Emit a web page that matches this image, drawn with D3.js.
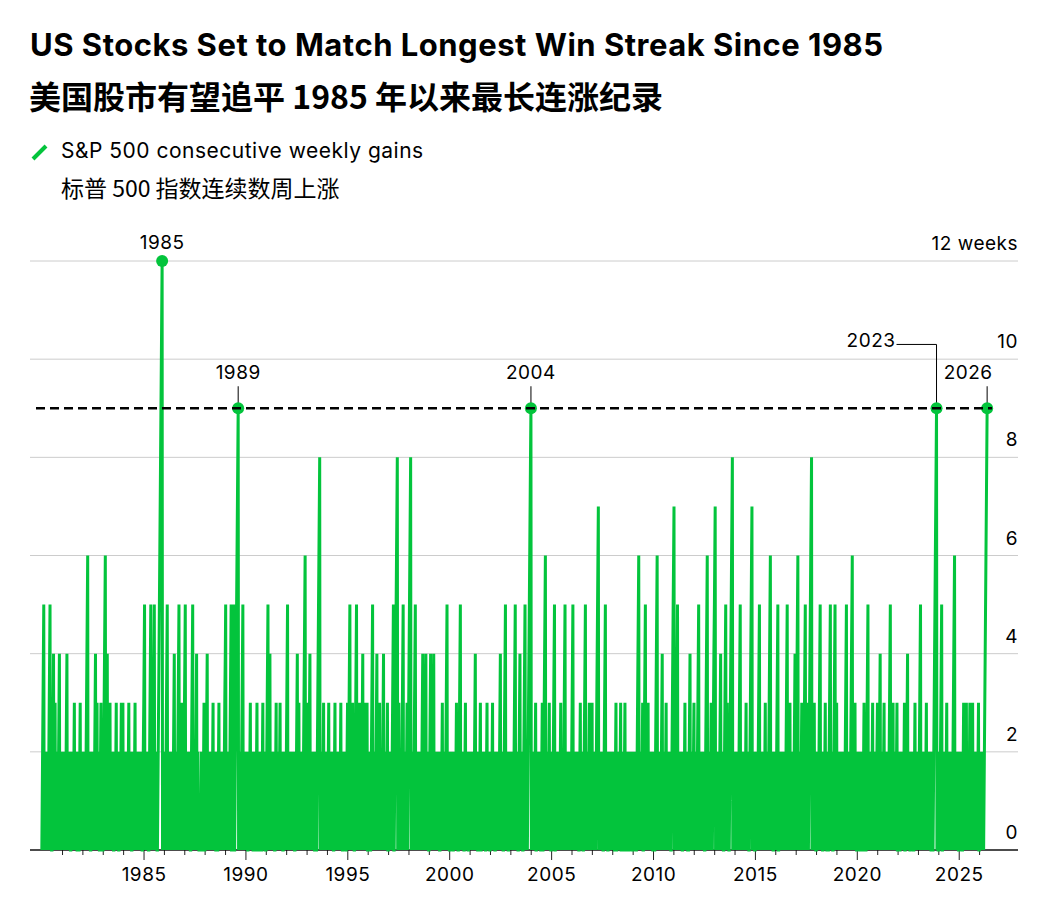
<!DOCTYPE html>
<meta charset="utf-8" />
<title>US Stocks Set to Match Longest Win Streak Since 1985</title>
<style>
  body { margin: 0; background: #fff; }
  svg { display: block; }
  text { font-family: Inter, "Liberation Sans", Arial, sans-serif; fill: #000; }
  .cjk { font-family: "Noto Sans CJK SC", Inter, sans-serif; }
  .lbl { font-size: 19px; letter-spacing: 0.5px; }
  .grid line { stroke: #cccccc; stroke-width: 1px; }
  .axis text { font-family: Inter, "Liberation Sans", Arial, sans-serif; font-size: 19px; letter-spacing: 0.5px; fill: #000; }
  .axis line { stroke: #222; }
  .axis path { display: none; }
</style>

<body>
  <svg width="1054" height="914"></svg>

  <script src="https://d3js.org/d3.v7.min.js"></script>
  <script>
    const width = 1054, height = 914;
    const green = "#03c43c";

    // weekly value of the S&P 500 winning streak, one string per year (52 weeks),
    // digits, a/b/c = 10/11/12, spaces only for readability
    const firstYear = 1980;
    const weeklyStreak = [
      "0123450 1012012010 123450 1200 12340 1230120120 12340 12012",              // 1980
      "012012010 12340 120101200120120 1230 12012001200 1230 1201",                // 1981
      "20120120 1234560 120120010120120 12340 1230 1012001230120",                 // 1982
      "01234560 12340 120 1230 10 120 120 0 120 1230 10 120 0 120 1230 123",       // 1983
      "012010120120 1230 120120012010 1230 120 120 10 120 120 120 0 12",           // 1984
      "3450 1201201200 123450 120 123450 1201200 123456789abc0 101",               // 1985
      "0120123450 1201012012010 12340 120120 123450 120123012012",                 // 1986
      "34501 201201201200 123450 12010 12340 120100010120010 1230",                // 1987
      "01012340 12012010120 1230 12012001200 1230 12010120120123",                 // 1988
      "450 12012010 123450 0123450 01234567890 120120 123450 12012",               // 1989
      "0120100120 1230 1201200101200 1230 12001201200 1230 120100",                // 1990
      "0123450 123401 20120120100 1230 120120123012012001201201",                  // 1991
      "23450 12012010120120120010 12340 1230 120120120 1234560 12",                // 1992
      "3012012340 1201201012001200 123456780 12012012301201201",                   // 1993
      "20 1230 120 10 120 120 0 1230 120 120 10 120 1230 120 0 120 120 10 012",    // 1994
      "30123450 12012301200 123450 12301201230 12340 12012301230",                 // 1995
      "01201200 123450 120120 12340 120123012010 12340 1201201230",                // 1996
      "012012010 123450 0123456780 123012010 123450 120120123012",                 // 1997
      "3456780 120120 123450 12012010120120 12340 12012340120120",                 // 1998
      "012340 12012340 120 120 10 120 120 0 120 1230 120 120 123450 1201",         // 1999
      "0 0 120 10 120 0 120 10 1230 120 0 123450 120 120 10 0 1230 120 120 0 12",  // 2000
      "01201012010 12340 120 10 0 120 1230 0 120 10 120 120 0 1230 120 120",       // 2001
      "01201230120100 120120120 12340 1201200 123450 12012001201",                 // 2002
      "20120120 123450 1201200 12340 1201200 123450 12010 12345678",               // 2003
      "90 120 10 120 1230 0 120 120 10 120 0 1230 0 1234560 1201201230120",        // 2004
      "01201234500 12012010120123012010 123450 120120120101201",                   // 2005
      "23450 120 120 10 120 120 0 1230 120 120 0 123450 120120123012012",          // 2006
      "3012012010 12345670 120120101200 123450 1201001201201012",                  // 2007
      "0 10 120 0 1230 0 10 120 10 1230 0 120 10 0 1230 120 0 10 120 0 120 10 120", // 2008
      "0120101200 1234560 12012012300 123450 120123012012010120",                  // 2009
      "01200 1234560 12012010 12340 120120123012012010120 012345",                 // 2010
      "670 120123450 120 120 10 120 0 120 1230 120 120 0 012340 12012012",         // 2011
      "30120120 123450 120120101201200 1234560 1201201230101234",                  // 2012
      "5670 120120120 12340 1201200 123450 12301200 123456780 1201",               // 2013
      "2012012010 123450 1201201012012301201200 12345670 120120",                  // 2014
      "0120120123450120 120101201230120120 1234560 12012001201",                   // 2015
      "201234500 12012010120120120 123450 12012301201012012340",                   // 2016
      "1234560 1201201230120 123450 1201230 123456780 1201230120",                 // 2017
      "012010 123450 12010012012301200100 123450 120100 123450 12",                // 2018
      "3012012010 12012010120 123450 12012010 1234560 1201230120",                 // 2019
      "0 120 120 10 0 120 10 0 1230 120 0123450 120 120 10 1230 120 120 10 12",    // 2020
      "301012340 12012012301201012010 123450 12012301201201230",                   // 2021
      "0 120 10 0 120 10 120 1230 0 10 12340 120 10 0 120 120 10 0 1230 120 10 1", // 2022
      "20123450 120 120 10 120 1230 120 120 10 120 0 120 0 1234567890 120",        // 2023
      "01201234500 120 120 10 1230 120 120 10 120 10 1234560 120120120",           // 2024
      "0 120 10 120 0 1230 120 1230 10 120 1230 120 1230 120 10 120 120 1230",     // 2025
      "012010120120 123456789"                                                     // 2026 (to date)
    ];

    const yTicks = [0, 2, 4, 6, 8, 10, 12];
    const yTickLabels = ["0", "2", "4", "6", "8", "10", "12 weeks"];
    const minorYears = d3.range(1981, 2027);
    const majorYears = [1985, 1990, 1995, 2000, 2005, 2010, 2015, 2020, 2025];
    const recordLine = 9;
    const calloutYears = [1985, 1989, 2004, 2023, 2026];

    const titleEn = "US Stocks Set to Match Longest Win Streak Since 1985";
    const titleZh = "美国股市有望追平 1985 年以来最长连涨纪录";
    const legendEn = "S&P 500 consecutive weekly gains";
    const legendZh = "标普 500 指数连续数周上涨";

    // flatten into dated weekly points
    const data = [];
    weeklyStreak.forEach((s, i) => {
      const yr = firstYear + i;
      s.replace(/\s/g, "").split("").forEach((c, k) => {
        data.push({
          year: yr,
          date: d3.timeDay.offset(new Date(yr, 0, 1), Math.round(k * 7 + 3.5)),
          value: parseInt(c, 16)
        });
      });
    });

    const svg = d3.select("svg")
      .attr("width", width)
      .attr("height", height);

    const x = d3.scaleTime()
      .domain([new Date(1980, 0, 1), new Date(2026, 0, 1)])
      .range([41.6, 979.1]);
    const y = d3.scaleLinear().domain([0, 12]).range([850, 261]);

    const left = 30, right = 1018;

    // titles
    svg.append("text")
      .attr("x", 30).attr("y", 56)
      .attr("font-size", 31).attr("font-weight", "bold")
      .attr("letter-spacing", 0.5)
      .text(titleEn);
    svg.append("text")
      .attr("class", "cjk")
      .attr("x", 29).attr("y", 109)
      .attr("font-size", 32).attr("font-weight", "bold")
      .text(titleZh);

    // legend
    svg.append("line")
      .attr("x1", 33).attr("y1", 159).attr("x2", 46).attr("y2", 146)
      .attr("stroke", green).attr("stroke-width", 4);
    svg.append("text")
      .attr("x", 61).attr("y", 158)
      .attr("font-size", 21).attr("letter-spacing", 0.5)
      .text(legendEn);
    svg.append("text")
      .attr("class", "cjk")
      .attr("x", 61).attr("y", 197)
      .attr("font-size", 23)
      .text(legendZh);

    // gridlines
    svg.append("g").attr("class", "grid")
      .selectAll("line")
      .data(yTicks.filter(d => d > 0))
      .join("line")
      .attr("x1", left).attr("x2", right)
      .attr("y1", d => y(d)).attr("y2", d => y(d));

    // y labels on the right, sitting above each gridline
    svg.append("g")
      .selectAll("text")
      .data(yTicks)
      .join("text")
      .attr("class", "lbl")
      .attr("x", right)
      .attr("y", d => y(d) - 11)
      .attr("text-anchor", "end")
      .text((d, i) => yTickLabels[i]);

    // x axis: minor ticks every year, labelled ticks every 5 years
    svg.append("g").attr("class", "axis")
      .attr("transform", `translate(0,${y(0)})`)
      .call(d3.axisBottom(x)
        .tickValues(minorYears.filter(d => !majorYears.includes(d)).map(d => new Date(d, 0, 1)))
        .tickSize(5).tickFormat(""));
    svg.append("g").attr("class", "axis")
      .attr("transform", `translate(0,${y(0)})`)
      .call(d3.axisBottom(x)
        .tickValues(majorYears.map(d => new Date(d, 0, 1)))
        .tickSize(10).tickPadding(8)
        .tickFormat(d3.timeFormat("%Y")));

    svg.append("line")
      .attr("x1", left).attr("x2", right)
      .attr("y1", y(0)).attr("y2", y(0))
      .attr("stroke", "#111").attr("stroke-width", 1.3);

    // streak line
    const line = d3.line()
      .x(d => x(d.date))
      .y(d => y(d.value));

    svg.append("path")
      .datum(data)
      .attr("fill", "none")
      .attr("stroke", green)
      .attr("stroke-width", 3)
      .attr("d", line);

    // callouts on the longest streaks
    const peaks = calloutYears.map(yr => {
      const pts = data.filter(d => d.year === yr);
      return pts.reduce((a, b) => (b.value > a.value ? b : a));
    });

    const callout = svg.append("g");
    peaks.forEach(p => {
      const px = x(p.date), py = y(p.value);
      const label = String(p.year);
      if (p.year === 1985) {
        callout.append("text").attr("class", "lbl").attr("x", px).attr("y", py - 12)
          .attr("text-anchor", "middle").text(label);
      } else if (p.year === 2023) {
        const ly = y(10.3);
        callout.append("path")
          .attr("d", `M${px - 40},${ly}H${px}V${py}`)
          .attr("fill", "none").attr("stroke", "#000").attr("stroke-width", 1);
        callout.append("text").attr("class", "lbl").attr("x", px - 41).attr("y", ly + 3)
          .attr("text-anchor", "end").text(label);
      } else {
        const lx = p.year === 2026 ? px - 19 : px;
        callout.append("line")
          .attr("x1", px).attr("x2", px).attr("y1", py - 22).attr("y2", py)
          .attr("stroke", "#000").attr("stroke-width", 1);
        callout.append("text").attr("class", "lbl").attr("x", lx).attr("y", py - 29)
          .attr("text-anchor", "middle").text(label);
      }
      callout.append("circle")
        .attr("cx", px).attr("cy", py).attr("r", 6)
        .attr("fill", green);
    });

    // dashed reference at the 9-week mark
    svg.append("line")
      .attr("x1", 36).attr("x2", 992)
      .attr("y1", y(recordLine)).attr("y2", y(recordLine))
      .attr("stroke", "#000").attr("stroke-width", 2.5)
      .attr("stroke-dasharray", "9,5");
  </script>
</body>
